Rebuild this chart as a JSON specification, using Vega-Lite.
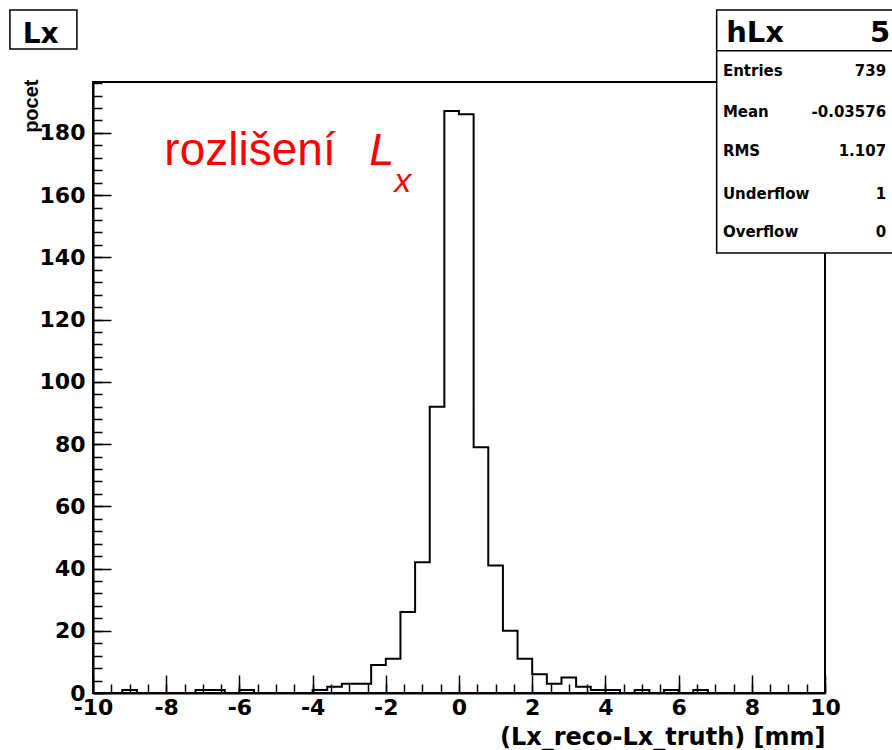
{
  "$schema": "https://vega.github.io/schema/vega-lite/v6.json",
  "width": 732,
  "height": 611,
  "autosize": {"type": "none"},
  "padding": {"left": 93, "top": 82, "right": 67, "bottom": 57},
  "background": "white",
  "config": {
    "view": {"stroke": "black", "strokeWidth": 2},
    "axis": {
      "domainColor": "black", "domainWidth": 2, "tickColor": "black", "tickWidth": 1.5,
      "labelColor": "black", "titleColor": "black", "grid": false,
      "labelFont": "DejaVu Sans", "labelFontWeight": "bold", "labelFontSize": 22,
      "titleFont": "DejaVu Sans", "titleFontWeight": "bold",
      "labelFlush": false, "labelOverlap": false
    }
  },
  "datasets": {
    "hist": [
      {"edge": -10.0, "count": 0}, {"edge": -9.6, "count": 0}, {"edge": -9.2, "count": 1}, {"edge": -8.8, "count": 0},
      {"edge": -8.4, "count": 0}, {"edge": -8.0, "count": 0}, {"edge": -7.6, "count": 0}, {"edge": -7.2, "count": 1},
      {"edge": -6.8, "count": 1}, {"edge": -6.4, "count": 0}, {"edge": -6.0, "count": 1}, {"edge": -5.6, "count": 0},
      {"edge": -5.2, "count": 0}, {"edge": -4.8, "count": 0}, {"edge": -4.4, "count": 0}, {"edge": -4.0, "count": 1},
      {"edge": -3.6, "count": 2}, {"edge": -3.2, "count": 3}, {"edge": -2.8, "count": 3}, {"edge": -2.4, "count": 9},
      {"edge": -2.0, "count": 11}, {"edge": -1.6, "count": 26}, {"edge": -1.2, "count": 42}, {"edge": -0.8, "count": 92},
      {"edge": -0.4, "count": 187}, {"edge": 0.0, "count": 186}, {"edge": 0.4, "count": 79}, {"edge": 0.8, "count": 41},
      {"edge": 1.2, "count": 20}, {"edge": 1.6, "count": 11}, {"edge": 2.0, "count": 6}, {"edge": 2.4, "count": 3},
      {"edge": 2.8, "count": 5}, {"edge": 3.2, "count": 2}, {"edge": 3.6, "count": 1}, {"edge": 4.0, "count": 1},
      {"edge": 4.4, "count": 0}, {"edge": 4.8, "count": 1}, {"edge": 5.2, "count": 0}, {"edge": 5.6, "count": 1},
      {"edge": 6.0, "count": 0}, {"edge": 6.4, "count": 1}, {"edge": 6.8, "count": 0}, {"edge": 7.2, "count": 0},
      {"edge": 7.6, "count": 0}, {"edge": 8.0, "count": 0}, {"edge": 8.4, "count": 0}, {"edge": 8.8, "count": 0},
      {"edge": 9.2, "count": 0}, {"edge": 9.6, "count": 0}, {"edge": 10.0, "count": 0}
    ],
    "boxes": [
      {"x": -12.27, "x2": -10.44, "y": 219.49, "y2": 206.95},
      {"x": 7.04, "x2": 12.8, "y": 219.49, "y2": 206.41},
      {"x": 7.04, "x2": 12.8, "y": 206.41, "y2": 141.4}
    ],
    "statLabels": [
      {"x": 7.21, "y": 198.28, "t": "Entries"},
      {"x": 7.21, "y": 185.2, "t": "Mean"},
      {"x": 7.21, "y": 172.67, "t": "RMS"},
      {"x": 7.21, "y": 158.66, "t": "Underflow"},
      {"x": 7.21, "y": 146.44, "t": "Overflow"}
    ],
    "statValues": [
      {"x": 11.67, "y": 198.28, "t": "739"},
      {"x": 11.67, "y": 185.2, "t": "-0.03576"},
      {"x": 11.67, "y": 172.67, "t": "1.107"},
      {"x": 11.67, "y": 158.66, "t": "1"},
      {"x": 11.67, "y": 146.44, "t": "0"}
    ],
    "headerLeft": [{"x": 7.3, "y": 209.3, "t": "hLx"}],
    "headerRight": [{"x": 11.78, "y": 209.3, "t": "5"}],
    "titleBox": [{"x": -11.43, "y": 208.79, "t": "Lx"}],
    "red1": [{"x": -8.05, "y": 169.68, "t": "rozlišení"}],
    "red2": [{"x": -2.45, "y": 169.68, "t": "L"}],
    "red3": [{"x": -1.77, "y": 160.9, "t": "x"}]
  },
  "layer": [
    {
      "data": {"name": "hist"},
      "mark": {"type": "line", "interpolate": "step-after", "color": "black", "strokeWidth": 2},
      "encoding": {
        "x": {
          "field": "edge", "type": "quantitative",
          "scale": {"domain": [-10, 10], "nice": false, "zero": false},
          "axis": {
            "orient": "bottom", "values": [-10, -8, -6, -4, -2, 0, 2, 4, 6, 8, 10],
            "tickSize": -18, "labelPadding": 22, "labelExpr": "'' + datum.value",
            "title": "(Lx_reco-Lx_truth) [mm]", "titleFontSize": 24,
            "titleAnchor": "end", "titleAlign": "right", "titleX": 732, "titleY": 51,
            "titleBaseline": "alphabetic"
          }
        },
        "y": {
          "field": "count", "type": "quantitative",
          "scale": {"domain": [0, 196.35], "nice": false},
          "axis": {
            "orient": "left", "values": [0, 20, 40, 60, 80, 100, 120, 140, 160, 180],
            "tickSize": -18, "labelPadding": 26, "labelExpr": "'' + datum.value",
            "title": "pocet", "titleFont": "Liberation Sans", "titleFontSize": 20,
            "titleAlign": "right", "titleAngle": 270, "titleX": -56, "titleY": -3,
            "titleBaseline": "alphabetic"
          }
        }
      }
    },
    {
      "data": {"name": "boxes"},
      "mark": {"type": "rect", "fill": "white", "stroke": "black", "strokeWidth": 1.5},
      "encoding": {
        "x": {
          "field": "x", "type": "quantitative",
          "scale": {"domain": [-10, 10], "nice": false, "zero": false},
          "axis": {
            "orient": "bottom", "labels": false, "domain": false, "title": null, "tickSize": -9,
            "values": [-10, -9.5, -9, -8.5, -8, -7.5, -7, -6.5, -6, -5.5, -5, -4.5, -4, -3.5, -3, -2.5, -2, -1.5, -1, -0.5, 0, 0.5, 1, 1.5, 2, 2.5, 3, 3.5, 4, 4.5, 5, 5.5, 6, 6.5, 7, 7.5, 8, 8.5, 9, 9.5, 10]
          }
        },
        "x2": {"field": "x2"},
        "y": {
          "field": "y", "type": "quantitative",
          "scale": {"domain": [0, 196.35], "nice": false},
          "axis": {
            "orient": "left", "labels": false, "domain": false, "title": null, "tickSize": -9,
            "values": [0, 4, 8, 12, 16, 20, 24, 28, 32, 36, 40, 44, 48, 52, 56, 60, 64, 68, 72, 76, 80, 84, 88, 92, 96, 100, 104, 108, 112, 116, 120, 124, 128, 132, 136, 140, 144, 148, 152, 156, 160, 164, 168, 172, 176, 180, 184, 188, 192, 196]
          }
        },
        "y2": {"field": "y2"}
      }
    },
    {
      "data": {"name": "titleBox"},
      "mark": {"type": "text", "font": "DejaVu Sans", "fontWeight": "bold", "fontSize": 28, "align": "center", "baseline": "alphabetic", "color": "black"},
      "encoding": {
        "x": {"field": "x", "type": "quantitative", "scale": {"domain": [-10, 10], "nice": false, "zero": false}, "axis": null},
        "y": {"field": "y", "type": "quantitative", "scale": {"domain": [0, 196.35], "nice": false}, "axis": null},
        "text": {"field": "t"}
      }
    },
    {
      "data": {"name": "headerLeft"},
      "mark": {"type": "text", "font": "DejaVu Sans", "fontWeight": "bold", "fontSize": 29, "align": "left", "baseline": "alphabetic", "color": "black"},
      "encoding": {
        "x": {"field": "x", "type": "quantitative", "scale": {"domain": [-10, 10], "nice": false, "zero": false}, "axis": null},
        "y": {"field": "y", "type": "quantitative", "scale": {"domain": [0, 196.35], "nice": false}, "axis": null},
        "text": {"field": "t"}
      }
    },
    {
      "data": {"name": "headerRight"},
      "mark": {"type": "text", "font": "DejaVu Sans", "fontWeight": "bold", "fontSize": 29, "align": "right", "baseline": "alphabetic", "color": "black"},
      "encoding": {
        "x": {"field": "x", "type": "quantitative", "scale": {"domain": [-10, 10], "nice": false, "zero": false}, "axis": null},
        "y": {"field": "y", "type": "quantitative", "scale": {"domain": [0, 196.35], "nice": false}, "axis": null},
        "text": {"field": "t"}
      }
    },
    {
      "data": {"name": "statLabels"},
      "mark": {"type": "text", "font": "DejaVu Sans", "fontWeight": "bold", "fontSize": 15, "align": "left", "baseline": "alphabetic", "color": "black"},
      "encoding": {
        "x": {"field": "x", "type": "quantitative", "scale": {"domain": [-10, 10], "nice": false, "zero": false}, "axis": null},
        "y": {"field": "y", "type": "quantitative", "scale": {"domain": [0, 196.35], "nice": false}, "axis": null},
        "text": {"field": "t"}
      }
    },
    {
      "data": {"name": "statValues"},
      "mark": {"type": "text", "font": "DejaVu Sans", "fontWeight": "bold", "fontSize": 15, "align": "right", "baseline": "alphabetic", "color": "black"},
      "encoding": {
        "x": {"field": "x", "type": "quantitative", "scale": {"domain": [-10, 10], "nice": false, "zero": false}, "axis": null},
        "y": {"field": "y", "type": "quantitative", "scale": {"domain": [0, 196.35], "nice": false}, "axis": null},
        "text": {"field": "t"}
      }
    },
    {
      "data": {"name": "red1"},
      "mark": {"type": "text", "font": "Liberation Sans", "fontSize": 46, "align": "left", "baseline": "alphabetic", "color": "#ff0000"},
      "encoding": {
        "x": {"field": "x", "type": "quantitative", "scale": {"domain": [-10, 10], "nice": false, "zero": false}, "axis": null},
        "y": {"field": "y", "type": "quantitative", "scale": {"domain": [0, 196.35], "nice": false}, "axis": null},
        "text": {"field": "t"}
      }
    },
    {
      "data": {"name": "red2"},
      "mark": {"type": "text", "font": "Liberation Sans", "fontStyle": "italic", "fontSize": 45, "align": "left", "baseline": "alphabetic", "color": "#ff0000"},
      "encoding": {
        "x": {"field": "x", "type": "quantitative", "scale": {"domain": [-10, 10], "nice": false, "zero": false}, "axis": null},
        "y": {"field": "y", "type": "quantitative", "scale": {"domain": [0, 196.35], "nice": false}, "axis": null},
        "text": {"field": "t"}
      }
    },
    {
      "data": {"name": "red3"},
      "mark": {"type": "text", "font": "Liberation Sans", "fontStyle": "italic", "fontSize": 34, "align": "left", "baseline": "alphabetic", "color": "#ff0000"},
      "encoding": {
        "x": {"field": "x", "type": "quantitative", "scale": {"domain": [-10, 10], "nice": false, "zero": false}, "axis": null},
        "y": {"field": "y", "type": "quantitative", "scale": {"domain": [0, 196.35], "nice": false}, "axis": null},
        "text": {"field": "t"}
      }
    }
  ],
  "resolve": {"axis": {"x": "independent", "y": "independent"}}
}
